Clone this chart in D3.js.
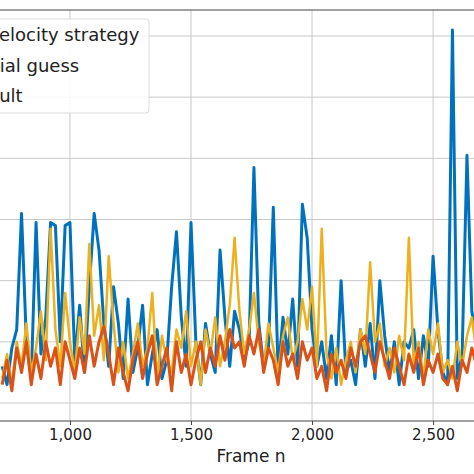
<!DOCTYPE html>
<html><head><meta charset="utf-8">
<script src="https://cdn.jsdelivr.net/npm/d3@7"></script>
<style>body{margin:0;background:#fff}svg{display:block}</style>
</head><body><svg id="c" width="474" height="474"></svg>
<script>
const frameStart = 720, frameStep = 20;
const velocity = [0.6,0.3,0.9,1.2,3.1,1.0,0.4,2.95,0.8,1.4,2.95,2.9,1.0,2.9,2.95,0.7,1.6,0.5,1.9,3.1,2.5,1.3,0.6,1.9,1.3,0.4,1.7,0.5,0.9,1.6,0.3,0.8,1.2,0.4,0.7,1.9,2.8,1.4,0.6,2.95,1.0,0.3,1.3,0.8,0.5,2.5,1.4,0.6,1.5,1.2,0.7,1.0,3.85,1.3,0.6,0.9,3.2,0.5,1.4,0.8,1.7,0.6,3.25,2.7,1.2,0.6,1.0,0.4,1.1,0.3,2.0,0.5,0.7,0.3,1.2,0.6,1.3,0.4,2.0,1.1,0.5,1.0,0.3,1.0,0.9,1.2,0.4,1.1,0.6,2.4,1.2,0.5,0.3,6.1,0.4,0.8,4.05,1.5,1.0];
const initial = [0.4,0.8,0.3,1.0,0.6,1.3,0.5,0.9,1.5,0.7,2.85,1.2,0.6,1.8,1.0,0.5,1.4,0.8,2.6,1.1,1.6,0.7,2.4,1.3,0.5,1.0,0.4,0.8,1.3,0.6,0.9,1.8,0.4,1.1,0.7,0.5,1.2,0.9,1.5,0.6,1.0,0.3,1.2,0.8,1.4,0.6,1.0,1.6,2.7,1.5,0.8,1.2,1.8,1.0,0.6,1.3,0.9,0.5,1.1,1.4,0.7,1.0,1.7,1.2,1.9,0.6,2.85,0.8,0.4,0.9,0.3,0.7,1.0,0.5,1.2,0.8,2.3,1.0,1.3,0.6,0.9,0.5,1.1,0.7,2.7,0.6,1.0,0.4,1.2,0.8,1.3,0.5,0.7,0.4,1.0,0.6,1.1,1.4,0.8];
const result = [0.3,0.7,0.2,0.9,0.5,1.0,0.3,0.8,0.4,1.0,0.6,0.9,0.3,1.0,0.7,0.4,0.9,0.5,1.1,0.6,1.0,1.25,0.8,0.3,0.9,0.5,0.2,0.7,1.0,0.4,0.8,1.1,0.3,0.6,0.9,0.2,1.0,0.5,0.8,0.3,0.7,1.0,0.5,0.9,0.6,1.1,0.7,1.2,0.9,1.0,0.6,1.1,0.8,1.2,0.5,0.9,0.7,0.3,1.0,0.6,0.8,0.4,1.0,0.7,0.9,0.4,0.6,0.2,0.8,0.5,0.7,0.4,0.9,0.6,1.0,1.1,0.8,0.5,1.0,0.7,0.4,0.9,0.6,0.3,0.8,0.5,0.9,0.3,0.7,0.5,0.8,0.4,0.3,0.6,0.2,0.7,0.5,0.9,0.6];
const xTicks = [1000,1500,2000,2500];
const yGrid = [0,1,2,3,4,5,6];
const labels = ["Velocity strategy","Initial guess","Result"];
const labelOffsets = [-12,-29,-33];
const colors = ["#0072BD","#EDB120","#D95319"];

const svg = d3.select("#c");
const x = d3.scaleLinear().domain([711,2669]).range([0,474]);
const y = d3.scaleLinear().domain([0,6]).range([403,36]);
const plotTop = 10, plotBottom = 421;

const g = svg.append("g");
g.selectAll(".gx").data(xTicks).join("line").attr("x1",d=>x(d)).attr("x2",d=>x(d))
 .attr("y1",plotTop).attr("y2",plotBottom).attr("stroke","#c8c8c8").attr("stroke-width",1);
g.selectAll(".gy").data(yGrid).join("line").attr("x1",0).attr("x2",474)
 .attr("y1",d=>y(d)).attr("y2",d=>y(d)).attr("stroke","#c8c8c8").attr("stroke-width",1);

const series = [velocity, initial, result];
const widths = [3,2.5,3];
series.forEach((s,k)=>{
  const line = d3.line().x((d,i)=>x(frameStart+i*frameStep)).y(d=>y(d));
  g.append("path").attr("d",line(s)).attr("fill","none").attr("stroke",colors[k])
   .attr("stroke-width",widths[k]).attr("stroke-linejoin","round");
});

g.append("line").attr("x1",0).attr("x2",474).attr("y1",plotTop).attr("y2",plotTop).attr("stroke","#444").attr("stroke-width",1.2);
g.append("line").attr("x1",0).attr("x2",474).attr("y1",plotBottom).attr("y2",plotBottom).attr("stroke","#444").attr("stroke-width",1.2);

const xa = svg.append("g").attr("transform",`translate(0,${plotBottom})`)
 .call(d3.axisBottom(x).tickValues(xTicks).tickSize(4).tickPadding(4));
xa.select(".domain").remove();
xa.selectAll("text").attr("font-family","DejaVu Sans").attr("font-size",15).attr("fill","#222");
xa.selectAll("line").attr("stroke","#444");
svg.append("text").attr("x",251).attr("y",462).attr("text-anchor","middle")
 .attr("font-family","DejaVu Sans").attr("font-size",17).attr("fill","#222").text("Frame n");

svg.append("rect").attr("x",-10).attr("y",19).attr("width",159).attr("height",94).attr("rx",3)
 .attr("fill","rgba(255,255,255,0.85)").attr("stroke","#ddd");
labels.forEach((t,i)=>{
  svg.append("text").attr("x",labelOffsets[i]).attr("y",41+i*30.5).attr("font-family","DejaVu Sans")
   .attr("font-size",18).attr("fill","#222").text(t);
});
</script></body></html>
